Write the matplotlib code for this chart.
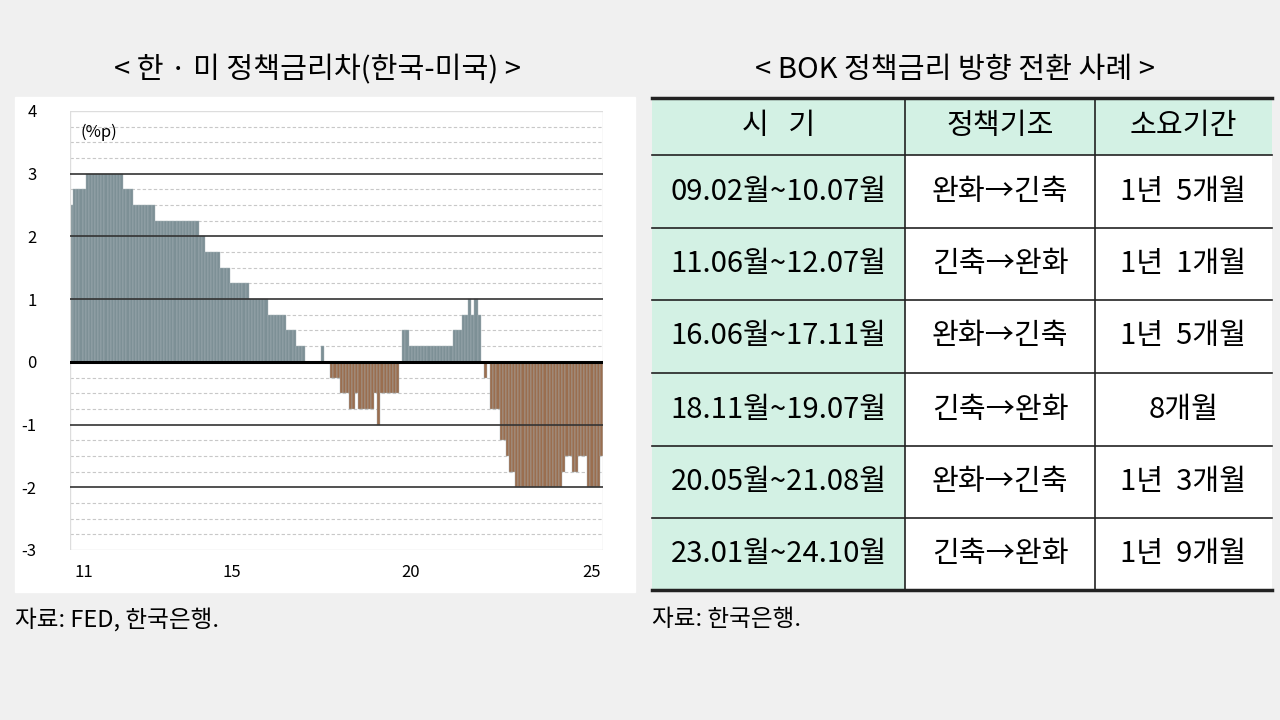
import matplotlib
matplotlib.use("Agg")
import matplotlib.pyplot as plt
import numpy as np

plt.rcParams['font.family'] = ['Noto Sans CJK KR', 'DejaVu Sans']

# monthly spread runs (value, months) from 2011.01
runs = [(2.5,1),(2.75,4),(3.0,12),(2.75,3),(2.5,7),(2.25,14),(2.0,2),(1.75,5),(1.5,3),
        (1.25,6),(1.0,6),(0.75,6),(0.5,3),(0.25,3),(0,5),(0.25,1),(0,2),
        (-0.25,3),(-0.5,3),(-0.75,2),(-0.5,1),(-0.75,5),(-0.5,1),(-1.0,1),(-0.5,6),(0,1),
        (0.5,2),(0.25,14),(0.5,3),(0.75,2),(1.0,1),(0.75,1),(1.0,1),(0.75,1),
        (0,1),(-0.25,1),(0,1),(-0.75,3),(-1.25,2),(-1.5,1),(-1.75,2),(-2.0,15),
        (-1.75,1),(-1.5,2),(-1.75,2),(-1.5,3),(-2.0,4),(-1.5,1)]
values = np.concatenate([[v]*n for v, n in runs])
xtick_pos = [4, 51, 108, 166]
xtick_labels = ['11', '15', '20', '25']
yticks = [-3, -2, -1, 0, 1, 2, 3, 4]

headers = ['시   기', '정책기조', '소요기간']
rows = [['09.02월~10.07월', '완화→긴축', '1년  5개월'],
        ['11.06월~12.07월', '긴축→완화', '1년  1개월'],
        ['16.06월~17.11월', '완화→긴축', '1년  5개월'],
        ['18.11월~19.07월', '긴축→완화', '8개월'],
        ['20.05월~21.08월', '완화→긴축', '1년  3개월'],
        ['23.01월~24.10월', '긴축→완화', '1년  9개월']]

W, H = 1280, 720
fig = plt.figure(figsize=(12.8, 7.2), dpi=100, facecolor='#f0f0f0')
bg = fig.add_axes([0, 0, 1, 1])
bg.set_xlim(0, W); bg.set_ylim(H, 0); bg.axis('off')
bg.add_patch(plt.Rectangle((15, 97), 620, 495, color='white', zorder=0))

bg.text(318, 70, '< 한 · 미 정책금리차(한국-미국) >', fontsize=21, ha='center', va='center')
bg.text(955, 70, '< BOK 정책금리 방향 전환 사례 >', fontsize=21, ha='center', va='center')
bg.text(15, 620, '자료: FED, 한국은행.', fontsize=17, ha='left', va='center')
bg.text(652, 620, '자료: 한국은행.', fontsize=17, ha='left', va='center')

# table
cols = [652, 905, 1095, 1272]
rys = [98, 155, 228, 300, 373, 446, 518, 590]
green = '#d3f1e4'
for i in range(7):
    for j in range(3):
        fc = green if (i == 0 or j == 0) else 'white'
        bg.add_patch(plt.Rectangle((cols[j], rys[i]), cols[j+1]-cols[j], rys[i+1]-rys[i],
                                   facecolor=fc, edgecolor='none', zorder=1))
        txt = headers[j] if i == 0 else rows[i-1][j]
        bg.text((cols[j]+cols[j+1])/2, (rys[i]+rys[i+1])/2, txt, fontsize=21,
                ha='center', va='center', zorder=3)
for y in rys[1:-1]:
    bg.plot([cols[0], cols[-1]], [y, y], color='#222222', lw=1.2, zorder=2)
for y in (rys[0], rys[-1]):
    bg.plot([cols[0], cols[-1]], [y, y], color='#222222', lw=2.5, zorder=2)
for x in cols[1:-1]:
    bg.plot([x, x], [rys[0], rys[-1]], color='#222222', lw=1.2, zorder=2)

# chart
ax = fig.add_axes([70/W, 1-550/H, (603-70)/W, (550-111)/H])
ax.set_facecolor('white')
x = np.arange(len(values))
colors = ['#7d9096' if v > 0 else '#9a6e4f' for v in values]
ax.bar(x, values, width=1.0, color=colors, edgecolor='#a9b6ba', linewidth=0.3, zorder=2)
for g in np.arange(-3, 4.01, 0.25):
    if abs(g - round(g)) < 1e-9:
        if g == 0:
            continue
        c, ls, lw = ('#dddddd', '-', 1) if g in (4, -3) else ('#333333', '-', 1.2)
    else:
        c, ls, lw = ('#c8c8c8', (0, (3, 2)), 0.8)
    ax.axhline(g, color=c, ls=ls, lw=lw, zorder=1 if c == '#c8c8c8' else 3)
ax.axhline(0, color='black', lw=2.2, zorder=4)
ax.set_xlim(-0.5, len(values) - 0.5)
ax.set_ylim(-3, 4)
for s in ax.spines.values():
    s.set_visible(False)
ax.axvline(-0.5, color='#dddddd', lw=1)
ax.axvline(len(values) - 0.5, color='#dddddd', lw=1)
ax.set_yticks(yticks)
ax.set_yticklabels([str(t) for t in yticks], fontsize=12)
ax.tick_params(axis='y', length=0, pad=24)
ax.set_xticks(xtick_pos)
ax.set_xticklabels(xtick_labels, fontsize=12)
ax.tick_params(axis='x', length=0, pad=10)
ax.text(0.02, 0.97, '(%p)', transform=ax.transAxes, fontsize=12, va='top', ha='left', zorder=5)

fig.savefig('out.png', dpi=100, facecolor=fig.get_facecolor())
